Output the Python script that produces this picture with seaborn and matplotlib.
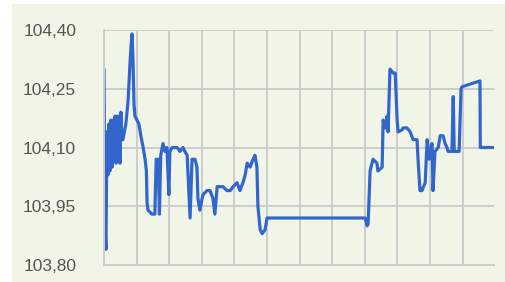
import matplotlib
matplotlib.use("Agg")
import matplotlib.pyplot as plt
from matplotlib.patches import Rectangle
from matplotlib.ticker import FuncFormatter
import pandas as pd
import seaborn as sns

# time axis (one grid step = 10 units) and price values
t = [0.0, 0.3, 0.6, 0.9, 1.2, 1.5, 1.8, 2.1, 2.5, 2.8, 3.1, 3.4, 3.7, 4.0, 4.3,
     4.6, 4.9, 5.2, 5.5, 5.8, 6.7, 7.4, 8.0, 8.3, 8.6, 8.9, 9.2, 9.5, 10.1, 10.7,
     11.3, 12.0, 12.6, 13.0, 13.2, 13.5, 14.1, 14.7, 15.3, 15.6, 16.0, 16.6, 17.0,
     17.4, 18.1, 18.7, 19.3, 19.9, 20.2, 20.9, 21.2, 22.4, 23.3, 24.2, 24.8, 25.5,
     26.4, 27.0, 27.9, 28.5, 28.8, 29.4, 30.1, 30.4, 31.6, 32.5, 33.4, 34.0, 34.7,
     35.6, 36.5, 37.7, 38.7, 39.6, 40.8, 41.7, 42.6, 43.3, 43.9, 44.8, 45.7, 46.3,
     46.9, 47.2, 47.9, 48.5, 49.4, 50.0, 80.1, 80.7, 81.0, 81.6, 82.5, 83.7, 84.0,
     85.3, 85.6, 86.2, 86.8, 87.1, 87.7, 88.7, 89.3, 89.9, 90.2, 91.4, 91.7, 92.9,
     93.9, 94.8, 96.0, 96.3, 96.9, 97.5, 98.5, 99.1, 99.7, 100.0, 100.6, 100.9,
     101.5, 102.5, 103.1, 104.0, 104.6, 105.2, 105.5, 106.1, 106.7, 107.1, 107.4,
     108.3, 108.9, 109.5, 109.8, 115.3, 115.4, 119.3]
price = [104.30, 103.90, 103.84, 104.14, 104.03, 104.16, 104.04, 104.17, 104.05,
         104.17, 104.09, 104.18, 104.06, 104.18, 104.09, 104.18, 104.06, 104.19,
         104.12, 104.12, 104.16, 104.22, 104.32, 104.36, 104.39, 104.32, 104.21,
         104.18, 104.17, 104.16, 104.13, 104.10, 104.07, 104.04, 103.96, 103.94,
         103.935, 103.93, 103.93, 103.93, 104.07, 104.07, 103.93, 104.08, 104.11,
         104.09, 104.10, 103.98, 104.09, 104.10, 104.10, 104.10, 104.09, 104.10,
         104.09, 104.08, 103.92, 104.07, 104.07, 104.05, 103.97, 103.94, 103.97,
         103.98, 103.99, 103.99, 103.97, 103.93, 104.00, 104.00, 104.00, 103.99,
         103.99, 104.00, 104.01, 103.99, 104.01, 104.03, 104.06, 104.05, 104.07,
         104.08, 104.05, 103.95, 103.89, 103.88, 103.89, 103.92, 103.92, 103.90,
         103.905, 104.04, 104.07, 104.06, 104.04, 104.05, 104.17, 104.15, 104.18,
         104.14, 104.30, 104.29, 104.29, 104.17, 104.14, 104.145, 104.15, 104.15,
         104.14, 104.12, 104.12, 104.07, 103.99, 103.99, 104.01, 104.12, 104.07,
         104.09, 104.11, 103.99, 104.09, 104.10, 104.13, 104.13, 104.11, 104.10,
         104.09, 104.09, 104.09, 104.23, 104.09, 104.09, 104.09, 104.25, 104.255,
         104.27, 104.10, 104.10]
y_ticks = [103.80, 103.95, 104.10, 104.25, 104.40]
x_grid = list(range(0, 120, 10))

bg = "#f0f5e8"
df = pd.DataFrame({"t": t, "price": price})

sns.set_style("white")
plt.rcParams["font.family"] = ["Liberation Sans", "DejaVu Sans"]

fig = plt.figure(figsize=(5.05, 2.82), dpi=100)
fig.patches.append(Rectangle((12 / 505, 0), 1 - 12 / 505, 1 - 4 / 282,
                             transform=fig.transFigure, facecolor=bg,
                             edgecolor="none", zorder=-1))
ax = fig.add_axes([104 / 505, 17 / 282, 390 / 505, 235 / 282])
ax.set_facecolor(bg)

sns.lineplot(data=df, x="t", y="price", ax=ax, color="#3366cc",
             linewidth=2.3, estimator=None, sort=False,
             solid_joinstyle="round", solid_capstyle="round")

ax.set_xlim(0, 119.6)
ax.set_ylim(103.80, 104.40)
ax.set_xticks(x_grid)
ax.set_yticks(y_ticks)
ax.yaxis.set_major_formatter(FuncFormatter(lambda v, p: f"{v:.2f}".replace(".", ",")))
ax.tick_params(axis="x", length=0, labelbottom=False)
ax.tick_params(axis="y", length=0, pad=20, labelsize=12.5, labelcolor="#555555")
ax.grid(True, color="#cccccc", linewidth=1.4)
ax.set_axisbelow(True)
for side in ["top", "right"]:
    ax.spines[side].set_visible(False)
for side in ["left", "bottom"]:
    ax.spines[side].set_color("#cccccc")
    ax.spines[side].set_linewidth(1.4)
ax.set_xlabel("")
ax.set_ylabel("")

fig.savefig("out.png", dpi=100)
